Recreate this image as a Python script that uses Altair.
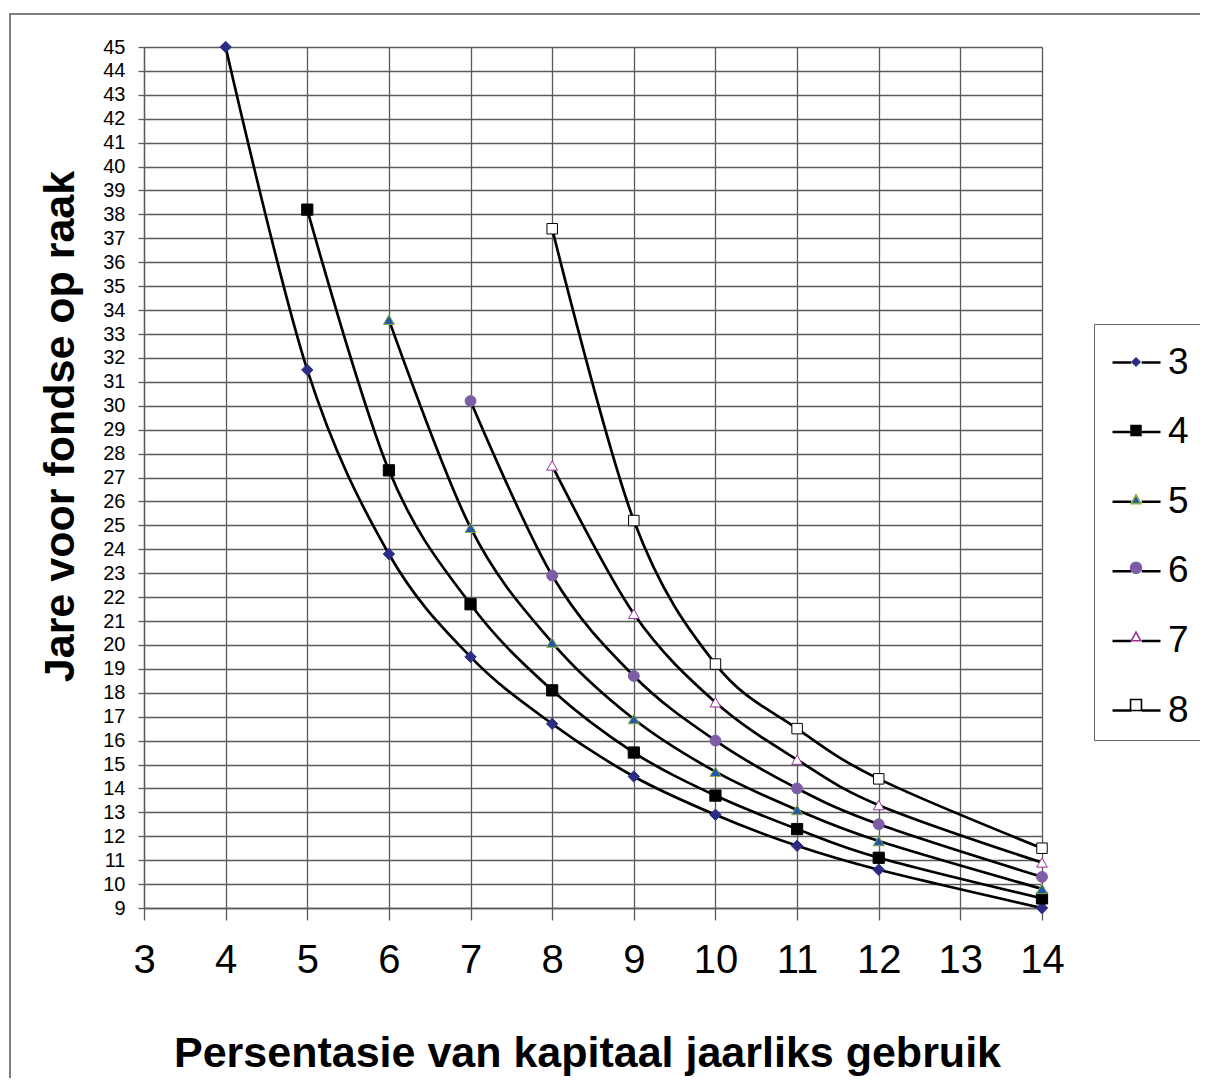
import altair as alt
import pandas as pd

FONT = "Liberation Sans"

series = ["3", "4", "5", "6", "7", "8"]
x3 = [4, 5, 6, 7, 8, 9, 10, 11, 12, 14]
y3 = [45.0, 31.5, 23.8, 19.5, 16.7, 14.5, 12.9, 11.6, 10.6, 9.0]
x4 = [5, 6, 7, 8, 9, 10, 11, 12, 14]
y4 = [38.2, 27.3, 21.7, 18.1, 15.5, 13.7, 12.3, 11.1, 9.4]
x5 = [6, 7, 8, 9, 10, 11, 12, 14]
y5 = [33.6, 24.9, 20.1, 16.9, 14.7, 13.1, 11.8, 9.8]
x6 = [7, 8, 9, 10, 11, 12, 14]
y6 = [30.2, 22.9, 18.7, 16.0, 14.0, 12.5, 10.3]
x7 = [8, 9, 10, 11, 12, 14]
y7 = [27.5, 21.3, 17.6, 15.2, 13.3, 10.9]
x8 = [8, 9, 10, 11, 12, 14]
y8 = [37.4, 25.2, 19.2, 16.5, 14.4, 11.5]
x_ticks = list(range(3, 15))
y_ticks = list(range(9, 46))

xs = [x3, x4, x5, x6, x7, x8]
ys = [y3, y4, y5, y6, y7, y8]
rows = []
for s, xx, yy in zip(series, xs, ys):
    for a, b in zip(xx, yy):
        rows.append({"series": s, "x": a, "y": b})
df = pd.DataFrame(rows)

# styles
plot_shapes = ["diamond", "square", "triangle-up", "circle", "triangle-up", "square"]
plot_fill = ["#2B2D84", "#000000", "#2358A6", "#7D5DA6", "#FFFFFF", "#FFFFFF"]
plot_stroke = ["#2B2D84", "#000000", "#8BAE45", "#7D5DA6", "#9A2F97", "#000000"]
plot_size = [130, 110, 120, 145, 115, 135]
plot_sw = [1, 1, 2.2, 1, 2, 2]

GRID = "#5a5a5a"

# legend symbol paths (unit = 26 px)
line_path = "M-0.923,0L-0.2,0M0.2,0L0.923,0"
ext = "M-0.923,0M0.923,0"
leg_marker_paths = [
    ext + "M0,-0.15L0.15,0L0,0.15L-0.15,0Z",
    ext + "M-0.19,-0.19L0.19,-0.19L0.19,0.19L-0.19,0.19Z",
    ext + "M0,-0.17L0.19,0.17L-0.19,0.17Z",
    ext + "M0.21,0A0.21,0.21,0,1,1,-0.21,0A0.21,0.21,0,1,1,0.21,0Z",
    ext + "M0,-0.16L0.18,0.17L-0.18,0.17Z",
    ext + "M-0.21,-0.21L0.21,-0.21L0.21,0.21L-0.21,0.21Z",
]
leg_fill = ["#2B2D84", "#000000", "#2358A6", "#7D5DA6", "#FFFFFF", "#FFFFFF"]
leg_stroke = ["#2B2D84", "#000000", "#8BAE45", "#7D5DA6", "#9A2F97", "#000000"]

x_axis = alt.Axis(
    values=x_ticks, format="d", grid=True, gridColor=GRID, gridWidth=1.3,
    domainColor=GRID, domainWidth=1.3, tickColor=GRID, tickWidth=1.3, tickSize=12,
    labelFont=FONT, labelFontSize=40, labelColor="black", labelPadding=20,
    labelFlush=False, labelOverlap=False,
    title="Persentasie van kapitaal jaarliks gebruik", titleFont=FONT,
    titleFontSize=43, titleFontWeight="bold", titleColor="black",
    titleX=443, titleY=158, titleAlign="center", titleBaseline="alphabetic",
)
y_axis = alt.Axis(
    values=y_ticks, format="d", grid=True, gridColor=GRID, gridWidth=1.3,
    domainColor=GRID, domainWidth=1.3, tickColor=GRID, tickWidth=1.3, tickSize=6,
    labelFont=FONT, labelFontSize=20, labelColor="black", labelPadding=13,
    labelFlush=False, labelOverlap=False,
    title="Jare voor fondse op raak", titleFont=FONT, titleFontSize=43,
    titleFontWeight="bold", titleColor="black", titleAngle=270,
    titleX=-71, titleY=379, titleAlign="center", titleBaseline="alphabetic",
)
x_scale = alt.Scale(domain=[3, 14], nice=False, zero=False)
y_scale = alt.Scale(domain=[9, 45], nice=False, zero=False)


def xe():
    return alt.X("x:Q", scale=x_scale, axis=x_axis)


def ye():
    return alt.Y("y:Q", scale=y_scale, axis=y_axis)


base = alt.Chart(df)

frame = alt.Chart(alt.Data(values=[{"k": 1}])).mark_rect(
    fill=None, stroke="#555555", strokeWidth=1.5
).encode(
    x=alt.value(-134), x2=alt.value(1300), y=alt.value(-33), y2=alt.value(1300)
)

lines = base.mark_line(interpolate="cardinal", color="black", strokeWidth=2.7).encode(
    x=xe(), y=ye(), detail="series:N"
)

points = base.mark_point(filled=True, opacity=1).encode(
    x=xe(), y=ye(),
    shape=alt.Shape("series:N", scale=alt.Scale(domain=series, range=plot_shapes), legend=None),
    fill=alt.Fill("series:N", scale=alt.Scale(domain=series, range=plot_fill), legend=None),
    stroke=alt.Stroke("series:N", scale=alt.Scale(domain=series, range=plot_stroke), legend=None),
    size=alt.Size("series:O", scale=alt.Scale(domain=series, range=plot_size), legend=None),
    strokeWidth=alt.StrokeWidth("series:O", scale=alt.Scale(domain=series, range=plot_sw), legend=None),
)

LEG_COMMON = dict(
    title=None, orient="none", legendX=950, legendY=277, padding=11,
    symbolSize=2704, symbolOffset=4, labelOffset=4, rowPadding=23.6,
    labelFont=FONT, labelFontSize=37, labelColor="black", symbolOpacity=1,
)

leg_lines = base.transform_filter("false").mark_point(
    filled=False, color="black", opacity=1, strokeWidth=2.5
).encode(
    x=xe(), y=ye(),
    shape=alt.Shape(
        "series:N", scale=alt.Scale(domain=series, range=[line_path] * 6),
        legend=alt.Legend(strokeColor="#666666", fillColor="white",
                          symbolStrokeColor="black", symbolStrokeWidth=2.5,
                          **LEG_COMMON),
    ),
)

leg_mark_legend = alt.Legend(strokeColor="transparent", labelOpacity=0,
                             labelExpr="' '",
                             symbolStrokeWidth=1.6, **LEG_COMMON)
leg_marks = base.transform_filter("false").mark_point(filled=True, opacity=1, strokeWidth=1.6).encode(
    x=xe(), y=ye(),
    shape=alt.Shape("series:N", scale=alt.Scale(domain=series, range=leg_marker_paths), legend=leg_mark_legend),
    fill=alt.Fill("series:N", scale=alt.Scale(domain=series, range=leg_fill), legend=leg_mark_legend),
    stroke=alt.Stroke("series:N", scale=alt.Scale(domain=series, range=leg_stroke), legend=leg_mark_legend),
)

chart = alt.layer(frame, lines, points, leg_lines, leg_marks).resolve_scale(
    shape="independent", fill="independent", stroke="independent"
).properties(
    width=898, height=861,
    autosize=alt.AutoSizeParams(type="none"),
    padding={"left": 136, "top": 39, "right": 158, "bottom": 170},
).configure_view(stroke=None).configure_axis(labelOverlap=False).configure(background="white")

chart.save("out.html", embed_options={"renderer": "svg", "actions": False})
